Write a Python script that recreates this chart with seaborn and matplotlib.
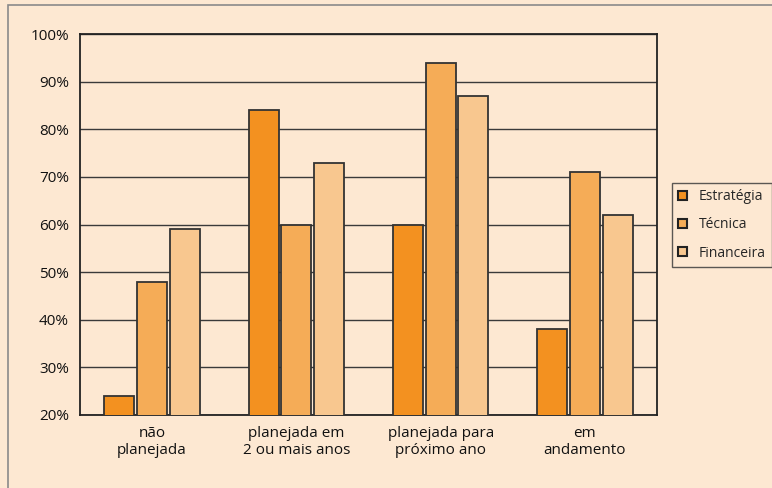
import matplotlib
matplotlib.use("Agg")
import matplotlib.pyplot as plt
import seaborn as sns
import pandas as pd
from matplotlib.patches import Patch, Rectangle
from matplotlib.ticker import FixedLocator, FuncFormatter

categories = ["não\nplanejada", "planejada em\n2 ou mais anos", "planejada para\npróximo ano", "em\nandamento"]
series = ["Estratégia", "Técnica", "Financeira"]
estrategia = [24, 84, 60, 38]
tecnica = [48, 60, 94, 71]
financeira = [59, 73, 87, 62]
colors = ["#F39120", "#F5AC57", "#F8C78F"]
bg = "#FDE8D2"

rows = []
for s, vals in zip(series, [estrategia, tecnica, financeira]):
    for c, v in zip(categories, vals):
        rows.append({"cat": c, "serie": s, "val": v})
df = pd.DataFrame(rows)

sns.set_theme(style="white")
plt.rcParams['font.family'] = ['Open Sans', 'DejaVu Sans']

fig = plt.figure(figsize=(7.72, 4.88), dpi=100, facecolor=bg)
ax = fig.add_axes([80/772, 1-415/488, (657-80)/772, (415-34)/488])
ax.set_facecolor(bg)

sns.barplot(data=df, x="cat", y="val", hue="serie", order=categories, hue_order=series,
            palette=colors, saturation=1, width=0.68, gap=0.08, edgecolor="#333333", linewidth=1.3,
            ax=ax, legend=False, zorder=3)

ax.set_ylim(20, 100)
ax.set_xlim(-0.5, 3.5)
ax.yaxis.set_major_locator(FixedLocator(list(range(20, 101, 10))))
ax.yaxis.set_major_formatter(FuncFormatter(lambda v, p: f"{int(v)}%"))
ax.grid(axis="y", color="#3a3a3a", linewidth=1.0, zorder=0)
ax.set_axisbelow(True)
ax.set_xlabel("")
ax.set_ylabel("")
for sp in ax.spines.values():
    sp.set_visible(True)
    sp.set_color("#222222")
    sp.set_linewidth(1.3)

ax.tick_params(axis="y", length=0, pad=8, labelsize=11, labelcolor="#111111")
ax.tick_params(axis="x", which="major", length=0, pad=8, labelsize=11, labelcolor="#111111")
ax.set_xticks([-0.5, 0.5, 1.5, 2.5, 3.5], minor=True)
ax.tick_params(axis="x", which="minor", length=4, width=1.2, color="#222222", direction="out")

handles = [Patch(facecolor=c, edgecolor="#222222", linewidth=1.5) for c in colors]
leg = fig.legend(handles, series, loc="upper left", bbox_to_anchor=(672/772, 1-183/488),
                 frameon=True, fontsize=10, handlelength=0.6, handleheight=0.6,
                 handletextpad=0.9, labelspacing=0.95, borderpad=0.45, borderaxespad=0,
                 fancybox=False, edgecolor="#333333", facecolor=bg)
leg.get_frame().set_linewidth(1.0)

fig.patches.append(Rectangle((8/772, -0.1), 1.2, (488-5)/488 + 0.1, transform=fig.transFigure,
                             fill=False, edgecolor="#8a8a8a", linewidth=1.2, zorder=0))

fig.savefig("out.png", dpi=100, facecolor=bg)
